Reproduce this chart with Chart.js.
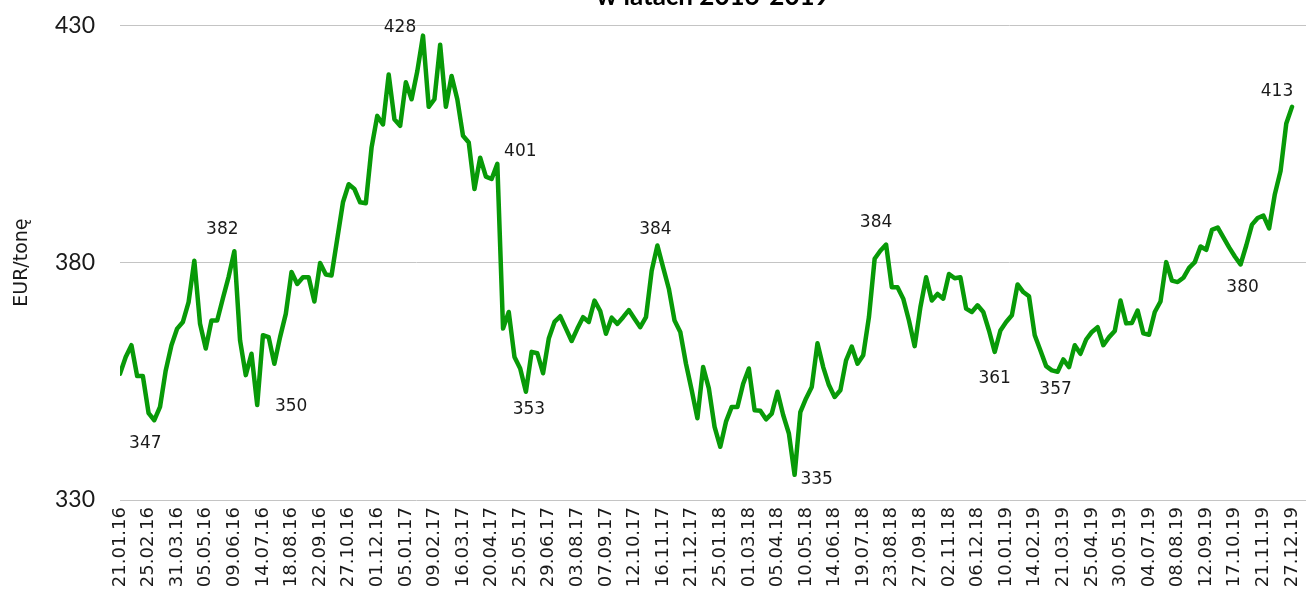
<!DOCTYPE html>
<html lang="pl">
<head>
<meta charset="utf-8">
<title>EUR/tonę w latach 2016-2019</title>
<script src="https://cdn.jsdelivr.net/npm/chart.js@4.4.1/dist/chart.umd.min.js"></script>
<style>
  html, body { margin: 0; padding: 0; background: #fff; overflow: hidden; }
  #wrap { width: 1306px; height: 604px; overflow: hidden; }
  #priceChart { display: block; margin-top: -19px; }
</style>
</head>
<body>
<div id="wrap"><canvas id="priceChart" width="1306" height="655"></canvas></div>
<script>
// tick labels, one every 5 weeks
const tickLabels = [
  '21.01.16','25.02.16','31.03.16','05.05.16','09.06.16','14.07.16','18.08.16','22.09.16',
  '27.10.16','01.12.16','05.01.17','09.02.17','16.03.17','20.04.17','25.05.17','29.06.17',
  '03.08.17','07.09.17','12.10.17','16.11.17','21.12.17','25.01.18','01.03.18','05.04.18',
  '10.05.18','14.06.18','19.07.18','23.08.18','27.09.18','02.11.18','06.12.18','10.01.19',
  '14.02.19','21.03.19','25.04.19','30.05.19','04.07.19','08.08.19','12.09.19','17.10.19',
  '21.11.19','27.12.19'
];

// weekly price, EUR/tonne
const prices = [
  356.6, 360.1, 362.6, 356.1, 356.1, 348.3, 346.8, 349.6, 357.3, 362.6,
  366.1, 367.5, 371.7, 380.4, 367.1, 361.9, 367.8, 367.8, 372.5, 377.0,
  382.4, 363.6, 356.3, 360.8, 350.0, 364.7, 364.3, 358.7, 364.3, 369.2,
  378.0, 375.5, 376.9, 376.9, 371.8, 379.9, 377.5, 377.3, 385.0, 392.7,
  396.5, 395.5, 392.7, 392.5, 404.2, 410.9, 409.1, 419.6, 410.2, 408.8,
  418.0, 414.4, 420.3, 427.8, 412.8, 414.4, 425.9, 412.8, 419.3, 414.4,
  406.7, 405.3, 395.5, 402.1, 398.1, 397.6, 400.8, 366.1, 369.6, 360.1,
  357.7, 352.8, 361.2, 360.9, 356.7, 364.0, 367.5, 368.7, 366.1, 363.5,
  366.1, 368.5, 367.5, 372.0, 369.8, 365.0, 368.4, 367.1, 368.5, 370.0,
  368.2, 366.4, 368.5, 378.3, 383.6, 379.0, 374.5, 367.8, 365.4, 358.7,
  353.1, 347.2, 358.0, 353.5, 345.4, 341.2, 346.5, 349.6, 349.6, 354.5,
  357.7, 348.9, 348.8, 347.0, 348.2, 352.8, 347.9, 344.0, 335.3, 348.5,
  351.4, 353.8, 363.0, 358.0, 354.2, 351.7, 353.1, 359.4, 362.3, 358.7,
  360.5, 368.5, 380.8, 382.5, 383.8, 374.8, 374.8, 372.4, 367.8, 362.4,
  370.6, 376.9, 372.0, 373.4, 372.4, 377.6, 376.7, 376.9, 370.3, 369.6,
  371.0, 369.6, 365.7, 361.2, 365.7, 367.5, 368.9, 375.4, 373.8, 372.9,
  364.7, 361.5, 358.2, 357.3, 357.0, 359.6, 358.0, 362.6, 360.8, 363.8,
  365.4, 366.4, 362.6, 364.3, 365.6, 372.0, 367.2, 367.3, 369.9, 365.1,
  364.8, 369.6, 371.8, 380.1, 376.2, 375.9, 376.8, 378.9, 380.1, 383.4,
  382.7, 386.9, 387.4, 385.3, 383.2, 381.3, 379.6, 383.6, 388.0, 389.4,
  389.9, 387.2, 394.4, 399.3, 409.3, 412.8
];

// points that carry a value label
const labelledPoints = [6, 20, 24, 53, 66, 71, 94, 118, 134, 153, 164, 196, 205];

// value labels next to chosen points
const pointLabels = {
  id: 'pointLabels',
  afterDatasetsDraw(chart, args, opts) {
    const ctx = chart.ctx;
    const pts = chart.getDatasetMeta(0).data;
    ctx.save();
    ctx.font = opts.font;
    ctx.fillStyle = opts.color;
    ctx.textAlign = 'center';
    ctx.textBaseline = 'middle';
    labelledPoints.forEach((idx, k) => {
      const p = pts[idx];
      const [dx, dy] = opts.offsets[k];
      ctx.fillText(Math.round(prices[idx]).toString(), p.x + dx, p.y + dy);
    });
    ctx.restore();
  }
};

new Chart(document.getElementById('priceChart'), {
  type: 'line',
  data: {
    datasets: [{
      data: prices.map((v, i) => ({x: i, y: v})),
      borderColor: '#089a08',
      borderWidth: 4.5,
      borderJoinStyle: 'round',
      borderCapStyle: 'round',
      pointRadius: 0,
      tension: 0,
      fill: false
    }]
  },
  options: {
    responsive: false,
    animation: false,
    layout: {padding: 0},
    plugins: {
      legend: {display: false},
      tooltip: {enabled: false},
      title: {
        display: true,
        text: 'w latach 2016-2019',
        fullSize: false,
        color: '#000',
        font: {family: 'Lato', size: 26, weight: 'bold', lineHeight: 1.2},
        padding: {top: 0, bottom: 13}
      },
      pointLabels: {
        font: '17px "DejaVu Sans"',
        color: '#1a1a1a',
        offsets: [[-9, 23], [-12, -22], [34, 2], [-23, -8], [23, -12], [3, 18], [-2, -16],
                  [22, 5], [-10, -22], [0, 27], [-2, 18], [2, 23], [-15, -15]]
      }
    },
    scales: {
      x: {
        type: 'linear',
        min: 0,
        max: 207.45,
        grid: {display: false, drawTicks: false},
        border: {display: false},
        afterBuildTicks: (s) => { s.ticks = tickLabels.map((_, k) => ({value: k * 5})); },
        afterFit: (s) => { s.height = 136; s.paddingLeft = 0; s.paddingRight = 0; },
        ticks: {
          autoSkip: false,
          maxRotation: 90,
          minRotation: 90,
          padding: 7,
          color: '#1a1a1a',
          font: {family: 'DejaVu Sans', size: 18},
          callback: (v) => tickLabels[v / 5] || ''
        }
      },
      y: {
        min: 330,
        max: 430,
        grid: {color: '#c4c4c4', lineWidth: 1, drawTicks: false},
        border: {display: false},
        afterFit: (s) => { s.width = 120; s.paddingTop = 0; s.paddingBottom = 0; },
        ticks: {
          stepSize: 50,
          padding: 25,
          color: '#1a1a1a',
          font: {family: 'Lato', size: 23}
        },
        title: {
          display: true,
          text: 'EUR/tonę',
          color: '#1a1a1a',
          font: {family: 'DejaVu Sans', size: 19},
          padding: {top: 11, bottom: 0}
        }
      }
    }
  },
  plugins: [pointLabels]
});
</script>
</body>
</html>
